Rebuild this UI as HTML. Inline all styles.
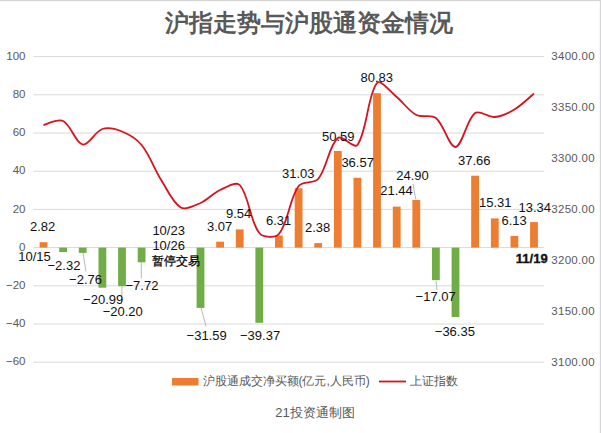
<!DOCTYPE html>
<html><head><meta charset="utf-8"><style>
html,body{margin:0;padding:0;background:#fff;}
body{width:601px;height:433px;overflow:hidden;position:relative;}
svg{position:absolute;left:0;top:0;display:block;}
text{font-family:"Liberation Sans",sans-serif;}
.ax{font-size:11.5px;fill:#595959;}
.axr{letter-spacing:0.33px;}
.dl{font-size:13px;fill:#111;}
.cn{font-size:11.7px;fill:#000;stroke:#000;stroke-width:0.25px;}
.lg{font-size:12px;fill:#595959;}
.title{font-size:23.7px;font-weight:bold;fill:#595959;}
</style></head><body>
<svg width="601" height="433" viewBox="0 0 601 433">
<rect x="0" y="0" width="601" height="433" fill="#fff"/>
<rect x="0" y="0" width="601" height="1.2" fill="#d6d6d6"/>
<rect x="599.8" y="0" width="1.2" height="433" fill="#d6d6d6"/>
<line x1="33.5" x2="544" y1="56.6" y2="56.6" stroke="#d9d9d9" stroke-width="1"/>
<text x="25.5" y="59.8" class="ax" text-anchor="end">100</text>
<line x1="33.5" x2="544" y1="94.8" y2="94.8" stroke="#d9d9d9" stroke-width="1"/>
<text x="25.5" y="98.0" class="ax" text-anchor="end">80</text>
<line x1="33.5" x2="544" y1="133.0" y2="133.0" stroke="#d9d9d9" stroke-width="1"/>
<text x="25.5" y="136.2" class="ax" text-anchor="end">60</text>
<line x1="33.5" x2="544" y1="171.2" y2="171.2" stroke="#d9d9d9" stroke-width="1"/>
<text x="25.5" y="174.4" class="ax" text-anchor="end">40</text>
<line x1="33.5" x2="544" y1="209.4" y2="209.4" stroke="#d9d9d9" stroke-width="1"/>
<text x="25.5" y="212.6" class="ax" text-anchor="end">20</text>
<line x1="33.5" x2="544" y1="247.6" y2="247.6" stroke="#d9d9d9" stroke-width="1"/>
<text x="25.5" y="250.8" class="ax" text-anchor="end">0</text>
<line x1="33.5" x2="544" y1="285.8" y2="285.8" stroke="#d9d9d9" stroke-width="1"/>
<text x="25.5" y="289.0" class="ax" text-anchor="end">−20</text>
<line x1="33.5" x2="544" y1="324.0" y2="324.0" stroke="#d9d9d9" stroke-width="1"/>
<text x="25.5" y="327.2" class="ax" text-anchor="end">−40</text>
<line x1="33.5" x2="544" y1="362.2" y2="362.2" stroke="#d9d9d9" stroke-width="1"/>
<text x="25.5" y="365.4" class="ax" text-anchor="end">−60</text>
<text x="551.2" y="59.8" class="ax axr">3400.00</text>
<text x="551.2" y="110.8" class="ax axr">3350.00</text>
<text x="551.2" y="161.7" class="ax axr">3300.00</text>
<text x="551.2" y="212.7" class="ax axr">3250.00</text>
<text x="551.2" y="263.7" class="ax axr">3200.00</text>
<text x="551.2" y="314.6" class="ax axr">3150.00</text>
<text x="551.2" y="365.6" class="ax axr">3100.00</text>
<rect x="39.6" y="242.2" width="7.8" height="5.4" fill="#ed7d31"/>
<rect x="59.2" y="247.6" width="7.8" height="4.4" fill="#70ad47"/>
<rect x="78.8" y="247.6" width="7.8" height="5.3" fill="#70ad47"/>
<rect x="98.5" y="247.6" width="7.8" height="40.1" fill="#70ad47"/>
<rect x="118.1" y="247.6" width="7.8" height="38.6" fill="#70ad47"/>
<rect x="137.7" y="247.6" width="7.8" height="14.7" fill="#70ad47"/>
<rect x="196.6" y="247.6" width="7.8" height="60.3" fill="#70ad47"/>
<rect x="216.2" y="241.7" width="7.8" height="5.9" fill="#ed7d31"/>
<rect x="235.8" y="229.4" width="7.8" height="18.2" fill="#ed7d31"/>
<rect x="255.4" y="247.6" width="7.8" height="75.2" fill="#70ad47"/>
<rect x="275.0" y="235.5" width="7.8" height="12.1" fill="#ed7d31"/>
<rect x="294.7" y="188.3" width="7.8" height="59.3" fill="#ed7d31"/>
<rect x="314.3" y="243.1" width="7.8" height="4.5" fill="#ed7d31"/>
<rect x="333.9" y="151.0" width="7.8" height="96.6" fill="#ed7d31"/>
<rect x="353.5" y="177.8" width="7.8" height="69.8" fill="#ed7d31"/>
<rect x="373.1" y="93.2" width="7.8" height="154.4" fill="#ed7d31"/>
<rect x="392.8" y="206.6" width="7.8" height="41.0" fill="#ed7d31"/>
<rect x="412.4" y="200.0" width="7.8" height="47.6" fill="#ed7d31"/>
<rect x="432.0" y="247.6" width="7.8" height="32.6" fill="#70ad47"/>
<rect x="451.6" y="247.6" width="7.8" height="69.4" fill="#70ad47"/>
<rect x="471.2" y="175.7" width="7.8" height="71.9" fill="#ed7d31"/>
<rect x="490.9" y="218.4" width="7.8" height="29.2" fill="#ed7d31"/>
<rect x="510.5" y="235.9" width="7.8" height="11.7" fill="#ed7d31"/>
<rect x="530.1" y="222.1" width="7.8" height="25.5" fill="#ed7d31"/>
<line x1="83.1" y1="252.8" x2="85.9" y2="271.4" stroke="#a6a6a6" stroke-width="0.8"/>
<line x1="122.0" y1="285.9" x2="121.5" y2="304.0" stroke="#a6a6a6" stroke-width="0.8"/>
<line x1="141.3" y1="261.7" x2="141.3" y2="278.4" stroke="#a6a6a6" stroke-width="0.8"/>
<line x1="201.0" y1="307.6" x2="206.0" y2="326.4" stroke="#a6a6a6" stroke-width="0.8"/>
<line x1="415.8" y1="199.6" x2="413.0" y2="184.0" stroke="#a6a6a6" stroke-width="0.8"/>
<line x1="436.0" y1="281.0" x2="437.0" y2="290.0" stroke="#a6a6a6" stroke-width="0.8"/>
<path d="M43.5,125.0 C46.8,124.3 57.9,118.4 63.1,121.0 C71.0,124.9 75.5,143.0 82.7,144.5 C88.6,145.7 95.1,131.4 102.4,129.0 C108.1,127.1 116.0,129.1 122.0,131.5 C129.1,134.4 136.7,139.0 141.6,145.0 C149.8,155.1 154.1,168.7 161.2,180.0 C167.2,189.5 172.6,202.7 180.8,207.5 C185.7,210.4 194.4,205.7 200.5,203.0 C207.5,199.9 213.0,193.2 220.1,190.0 C226.1,187.2 236.0,181.0 239.7,185.0 C249.1,195.3 249.8,221.2 259.3,233.0 C262.9,237.5 275.3,238.3 278.9,234.0 C288.4,222.6 289.2,199.1 298.6,186.0 C302.3,180.7 314.1,184.0 318.2,179.0 C327.1,168.0 328.8,145.8 337.8,138.0 C341.9,134.4 354.2,149.4 357.4,145.0 C367.3,131.1 367.5,94.7 377.0,83.0 C380.6,78.7 390.4,91.9 396.7,97.0 C403.5,102.6 408.8,111.0 416.3,115.0 C421.9,118.0 431.2,114.1 435.9,118.0 C444.2,124.8 449.4,147.8 455.5,147.0 C462.4,146.1 466.5,119.6 475.1,113.0 C479.6,109.6 488.4,117.6 494.8,117.0 C501.5,116.4 508.4,113.1 514.4,109.5 C521.5,105.2 530.7,96.2 534.0,93.5" fill="none" stroke="#d8121e" stroke-width="1.8" stroke-linecap="butt"/>
<text x="30.0" y="231.0" class="dl">2.82</text>
<text x="18.3" y="260.5" class="dl">10/15</text>
<text x="47.5" y="269.8" class="dl">−2.32</text>
<text x="69.1" y="284.3" class="dl">−2.76</text>
<text x="83.1" y="304.0" class="dl">−20.99</text>
<text x="102.7" y="316.4" class="dl">−20.20</text>
<text x="125.5" y="290.0" class="dl">−7.72</text>
<text x="152.4" y="234.6" class="dl">10/23</text>
<text x="152.4" y="250.4" class="dl">10/26</text>
<text x="186.6" y="340.0" class="dl">−31.59</text>
<text x="207.0" y="231.0" class="dl">3.07</text>
<text x="226.0" y="218.0" class="dl">9.54</text>
<text x="240.0" y="340.0" class="dl">−39.37</text>
<text x="266.0" y="224.5" class="dl">6.31</text>
<text x="282.0" y="177.6" class="dl">31.03</text>
<text x="305.0" y="232.0" class="dl">2.38</text>
<text x="322.0" y="140.8" class="dl">50.59</text>
<text x="341.4" y="166.7" class="dl">36.57</text>
<text x="360.5" y="82.3" class="dl">80.83</text>
<text x="380.2" y="195.0" class="dl">21.44</text>
<text x="396.3" y="179.6" class="dl">24.90</text>
<text x="415.6" y="301.0" class="dl">−17.07</text>
<text x="434.8" y="335.8" class="dl">−36.35</text>
<text x="458.0" y="164.8" class="dl">37.66</text>
<text x="479.0" y="207.4" class="dl">15.31</text>
<text x="501.5" y="224.5" class="dl">6.13</text>
<text x="518.5" y="211.5" class="dl">13.34</text>
<text x="515.8" y="263.4" class="dl" font-weight="bold" stroke="#111" stroke-width="0.35">11/19</text>
<text x="152" y="265" class="cn">暂停交易</text>
<text x="309" y="30.5" class="title" text-anchor="middle">沪指走势与沪股通资金情况</text>
<rect x="172" y="378" width="26.5" height="7.5" fill="#ed7d31"/>
<text x="202.5" y="385.2" class="lg">沪股通成交净买额(亿元,人民币)</text>
<line x1="379" x2="406" y1="381.5" y2="381.5" stroke="#d8121e" stroke-width="1.8"/>
<text x="410" y="385.2" class="lg">上证指数</text>
<text x="315" y="417" class="lg" text-anchor="middle" style="font-size:13px">21投资通制图</text>
</svg>
</body></html>
